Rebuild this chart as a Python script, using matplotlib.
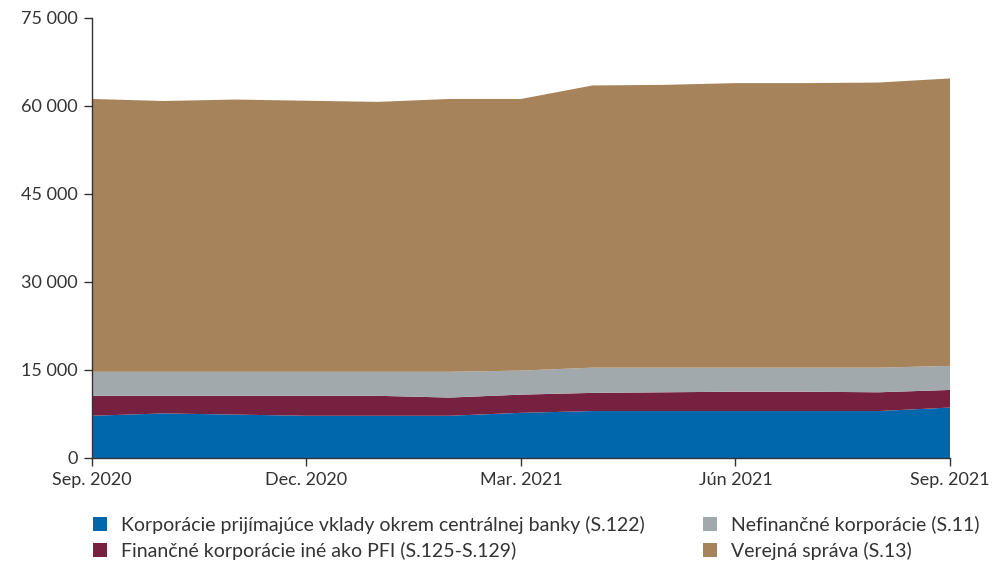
import numpy as np
import matplotlib.pyplot as plt
from matplotlib.patches import Patch

plt.rcParams['font.family'] = ['Lato', 'DejaVu Sans']

months = ['Sep. 2020', 'Okt. 2020', 'Nov. 2020', 'Dec. 2020', 'Jan. 2021', 'Feb. 2021',
          'Mar. 2021', 'Apr. 2021', 'Máj 2021', 'Jún 2021', 'Júl 2021', 'Aug. 2021', 'Sep. 2021']

# mil. EUR
korporacie_s122 = [7200, 7600, 7400, 7200, 7200, 7200, 7700, 8000, 8000, 8000, 8000, 8000, 8600]
financne_s125 = [3400, 3000, 3200, 3400, 3400, 3100, 3100, 3100, 3200, 3300, 3300, 3200, 3000]
nefinancne_s11 = [4100, 4100, 4100, 4100, 4100, 4400, 4100, 4300, 4200, 4100, 4100, 4200, 4100]
verejna_s13 = [46500, 46150, 46400, 46200, 46000, 46500, 46300, 48100, 48200, 48500, 48500, 48600, 49000]

labels = ['Korporácie prijímajúce vklady okrem centrálnej banky (S.122)',
          'Finančné korporácie iné ako PFI (S.125-S.129)',
          'Nefinančné korporácie (S.11)',
          'Verejná správa (S.13)']
colors = ['#0067AC', '#75213F', '#A2A9AD', '#A6835A']

x = np.arange(len(months))

fig = plt.figure(figsize=(9.95, 5.63), dpi=100)
ax = fig.add_axes([92/995, 1-458/563, (950-92)/995, 440/563])

ax.stackplot(x, korporacie_s122, financne_s125, nefinancne_s11, verejna_s13,
             colors=colors, linewidth=0)

ax.set_xlim(0, 12)
ax.set_ylim(0, 75000)
ax.set_xticks([0, 3, 6, 9, 12])
ax.set_xticklabels([months[i] for i in [0, 3, 6, 9, 12]])
ax.set_yticks(range(0, 75001, 15000))
ax.set_yticklabels(['0' if v == 0 else f'{v // 1000} 000' for v in range(0, 75001, 15000)])

for s in ['top', 'right']:
    ax.spines[s].set_visible(False)
for s in ['left', 'bottom']:
    ax.spines[s].set_color('#333333')
    ax.spines[s].set_linewidth(1)
ax.tick_params(axis='both', colors='#333333', labelsize=13, length=6, width=1)
ax.tick_params(axis='x', pad=4)
ax.tick_params(axis='y', pad=4)

handles = [Patch(facecolor=c, edgecolor='none') for c in colors]
fig.legend(handles, labels, ncol=2, loc='upper left', bbox_to_anchor=(0.093, 0.084),
           frameon=False, fontsize=14, handlelength=0.75, handleheight=0.75,
           handletextpad=0.7, columnspacing=3.0, labelspacing=0.42, borderaxespad=0,
           borderpad=0, labelcolor='#333333')

fig.savefig('out.png', dpi=100)
